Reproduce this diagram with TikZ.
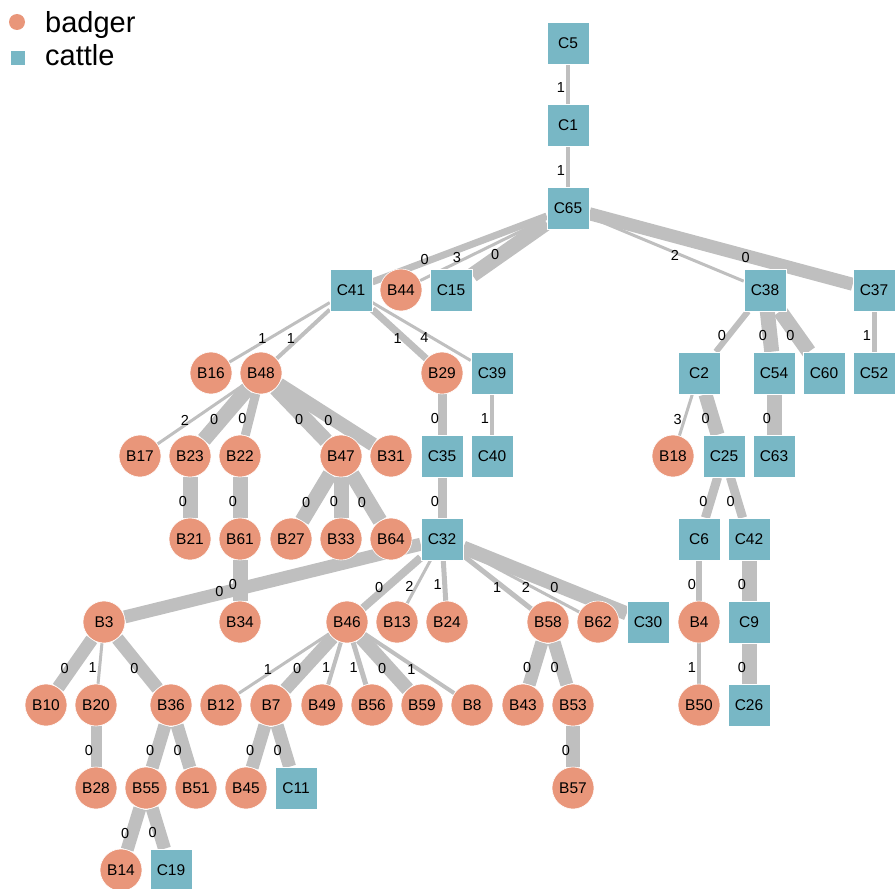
\documentclass[tikz,border=0pt]{standalone}
\usepackage{fontspec}
\setmainfont{Liberation Sans}
\usetikzlibrary{backgrounds}
\definecolor{badger}{RGB}{233,150,122}
\definecolor{cattle}{RGB}{120,183,197}
\definecolor{linkgray}{RGB}{191,191,191}
\tikzset{
	bnode/.style={circle, fill=badger, draw=white, line width=.6pt, minimum size=42pt, inner sep=0pt, font=\fontsize{15.5}{18}\selectfont},
	cnode/.style={rectangle, fill=cattle, draw=white, line width=.6pt, minimum size=42pt, inner sep=0pt, font=\fontsize{15.5}{18}\selectfont},
	lnk/.style={draw=linkgray, line width=#1pt},
	lnk/.default=3,
	lab/.style={pos=.6, xshift=-7pt, inner sep=0pt, font=\fontsize{14.5}{17}\selectfont},
	keytext/.style={anchor=base west, inner sep=0pt, font=\fontsize{29}{33}\selectfont}
}
\begin{document}
\begin{tikzpicture}[x=1pt, y=-1pt]
	\useasboundingbox (0,0) rectangle (896,888);
	% key
	\node[circle, fill=badger, minimum size=16pt, inner sep=0pt] (key_b) at (17,22) {};
	\node[keytext] (key_b_text) at (45,33) {badger};
	\node[rectangle, fill=cattle, minimum size=14pt, inner sep=0pt] (key_c) at (17.5,58) {};
	\node[keytext] (key_c_text) at (45,66) {cattle};
	% nodes
	\node[cnode] (C5) at (568,43) {C5};
	\node[cnode] (C1) at (568,125) {C1};
	\node[cnode] (C65) at (568,208) {C65};
	\node[cnode] (C41) at (351,290) {C41};
	\node[bnode] (B44) at (401,290) {B44};
	\node[cnode] (C15) at (451,290) {C15};
	\node[cnode] (C38) at (765,290) {C38};
	\node[cnode] (C37) at (874,290) {C37};
	\node[bnode] (B16) at (211,373) {B16};
	\node[bnode] (B48) at (261,373) {B48};
	\node[bnode] (B29) at (442,373) {B29};
	\node[cnode] (C39) at (492,373) {C39};
	\node[cnode] (C2) at (699,373) {C2};
	\node[cnode] (C54) at (774,373) {C54};
	\node[cnode] (C60) at (824,373) {C60};
	\node[cnode] (C52) at (874,373) {C52};
	\node[bnode] (B17) at (140,456) {B17};
	\node[bnode] (B23) at (190,456) {B23};
	\node[bnode] (B22) at (240,456) {B22};
	\node[bnode] (B47) at (341,456) {B47};
	\node[bnode] (B31) at (391,456) {B31};
	\node[cnode] (C35) at (442,456) {C35};
	\node[cnode] (C40) at (492,456) {C40};
	\node[bnode] (B18) at (673,456) {B18};
	\node[cnode] (C25) at (724,456) {C25};
	\node[cnode] (C63) at (774,456) {C63};
	\node[bnode] (B21) at (190,539) {B21};
	\node[bnode] (B61) at (240,539) {B61};
	\node[bnode] (B27) at (291,539) {B27};
	\node[bnode] (B33) at (341,539) {B33};
	\node[bnode] (B64) at (391,539) {B64};
	\node[cnode] (C32) at (442,539) {C32};
	\node[cnode] (C6) at (699,539) {C6};
	\node[cnode] (C42) at (749,539) {C42};
	\node[bnode] (B3) at (104,622) {B3};
	\node[bnode] (B34) at (240,622) {B34};
	\node[bnode] (B46) at (347,622) {B46};
	\node[bnode] (B13) at (397,622) {B13};
	\node[bnode] (B24) at (447,622) {B24};
	\node[bnode] (B58) at (548,622) {B58};
	\node[bnode] (B62) at (598,622) {B62};
	\node[cnode] (C30) at (648,622) {C30};
	\node[bnode] (B4) at (699,622) {B4};
	\node[cnode] (C9) at (749,622) {C9};
	\node[bnode] (B10) at (46,705) {B10};
	\node[bnode] (B20) at (96,705) {B20};
	\node[bnode] (B36) at (171,705) {B36};
	\node[bnode] (B12) at (221,705) {B12};
	\node[bnode] (B7) at (271,705) {B7};
	\node[bnode] (B49) at (322,705) {B49};
	\node[bnode] (B56) at (372,705) {B56};
	\node[bnode] (B59) at (422,705) {B59};
	\node[bnode] (B8) at (472,705) {B8};
	\node[bnode] (B43) at (523,705) {B43};
	\node[bnode] (B53) at (573,705) {B53};
	\node[bnode] (B50) at (699,705) {B50};
	\node[cnode] (C26) at (749,705) {C26};
	\node[bnode] (B28) at (96,788) {B28};
	\node[bnode] (B55) at (146,788) {B55};
	\node[bnode] (B51) at (196,788) {B51};
	\node[bnode] (B45) at (246,788) {B45};
	\node[cnode] (C11) at (296,788) {C11};
	\node[bnode] (B57) at (573,788) {B57};
	\node[bnode] (B14) at (121,870) {B14};
	\node[cnode] (C19) at (171,870) {C19};
	% links, under the nodes
	\begin{scope}[on background layer]
		\draw[lnk=4] (C5) -- (C1) node[lab] {1};
		\draw[lnk=4] (C1) -- (C65) node[lab] {1};
		\draw[lnk=7] (C65) -- (C41) node[lab, pos=.66, xshift=0pt] {0};
		\draw[lnk=3] (C65) -- (B44) node[lab, pos=.63, xshift=-3pt] {3};
		\draw[lnk=15] (C65) -- (C15) node[lab] {0};
		\draw[lnk=3] (C65) -- (C38) node[lab] {2};
		\draw[lnk=13] (C65) -- (C37) node[lab, pos=.62, xshift=0pt] {0};
		\draw[lnk=3] (C41) -- (B16) node[lab] {1};
		\draw[lnk=4] (C41) -- (B48) node[lab] {1};
		\draw[lnk=7] (C41) -- (B29) node[lab] {1};
		\draw[lnk=3] (C41) -- (C39) node[lab] {4};
		\draw[lnk=6] (C38) -- (C2) node[lab] {0};
		\draw[lnk=15] (C38) -- (C54) node[lab] {0};
		\draw[lnk=15] (C38) -- (C60) node[lab] {0};
		\draw[lnk=5] (C37) -- (C52) node[lab] {1};
		\draw[lnk=3] (B48) -- (B17) node[lab] {2};
		\draw[lnk=15] (B48) -- (B23) node[lab] {0};
		\draw[lnk=9] (B48) -- (B22) node[lab] {0};
		\draw[lnk=15] (B48) -- (B47) node[lab] {0};
		\draw[lnk=14] (B48) -- (B31) node[lab] {0};
		\draw[lnk=9] (B29) -- (C35) node[lab] {0};
		\draw[lnk=4] (C39) -- (C40) node[lab] {1};
		\draw[lnk=3] (C2) -- (B18) node[lab] {3};
		\draw[lnk=14] (C2) -- (C25) node[lab] {0};
		\draw[lnk=15] (C54) -- (C63) node[lab] {0};
		\draw[lnk=15] (B23) -- (B21) node[lab] {0};
		\draw[lnk=15] (B22) -- (B61) node[lab] {0};
		\draw[lnk=15] (B47) -- (B27) node[lab] {0};
		\draw[lnk=15] (B47) -- (B33) node[lab] {0};
		\draw[lnk=15] (B47) -- (B64) node[lab] {0};
		\draw[lnk=9] (C35) -- (C32) node[lab] {0};
		\draw[lnk=9] (C25) -- (C6) node[lab] {0};
		\draw[lnk=9] (C25) -- (C42) node[lab] {0};
		\draw[lnk=13] (C32) -- (B3) node[lab, pos=.656, xshift=0pt] {0};
		\draw[lnk=8] (C32) -- (B46) node[lab] {0};
		\draw[lnk=3] (C32) -- (B13) node[lab] {2};
		\draw[lnk=5] (C32) -- (B24) node[lab] {1};
		\draw[lnk=5] (C32) -- (B58) node[lab] {1};
		\draw[lnk=3] (C32) -- (B62) node[lab] {2};
		\draw[lnk=14] (C32) -- (C30) node[lab] {0};
		\draw[lnk=15] (B61) -- (B34) node[lab] {0};
		\draw[lnk=6] (C6) -- (B4) node[lab] {0};
		\draw[lnk=15] (C42) -- (C9) node[lab] {0};
		\draw[lnk=13] (B3) -- (B10) node[lab] {0};
		\draw[lnk=3] (B3) -- (B20) node[lab] {1};
		\draw[lnk=13] (B3) -- (B36) node[lab] {0};
		\draw[lnk=3] (B46) -- (B12) node[lab] {1};
		\draw[lnk=13] (B46) -- (B7) node[lab] {0};
		\draw[lnk=4] (B46) -- (B49) node[lab] {1};
		\draw[lnk=5] (B46) -- (B56) node[lab] {1};
		\draw[lnk=14] (B46) -- (B59) node[lab] {0};
		\draw[lnk=4] (B46) -- (B8) node[lab] {1};
		\draw[lnk=13] (B58) -- (B43) node[lab] {0};
		\draw[lnk=13] (B58) -- (B53) node[lab] {0};
		\draw[lnk=4] (B4) -- (B50) node[lab] {1};
		\draw[lnk=15] (C9) -- (C26) node[lab] {0};
		\draw[lnk=11] (B20) -- (B28) node[lab] {0};
		\draw[lnk=13] (B36) -- (B55) node[lab] {0};
		\draw[lnk=13] (B36) -- (B51) node[lab] {0};
		\draw[lnk=13] (B7) -- (B45) node[lab] {0};
		\draw[lnk=13] (B7) -- (C11) node[lab] {0};
		\draw[lnk=14] (B53) -- (B57) node[lab] {0};
		\draw[lnk=13] (B55) -- (B14) node[lab] {0};
		\draw[lnk=13] (B55) -- (C19) node[lab] {0};
	\end{scope}
\end{tikzpicture}
\end{document}
